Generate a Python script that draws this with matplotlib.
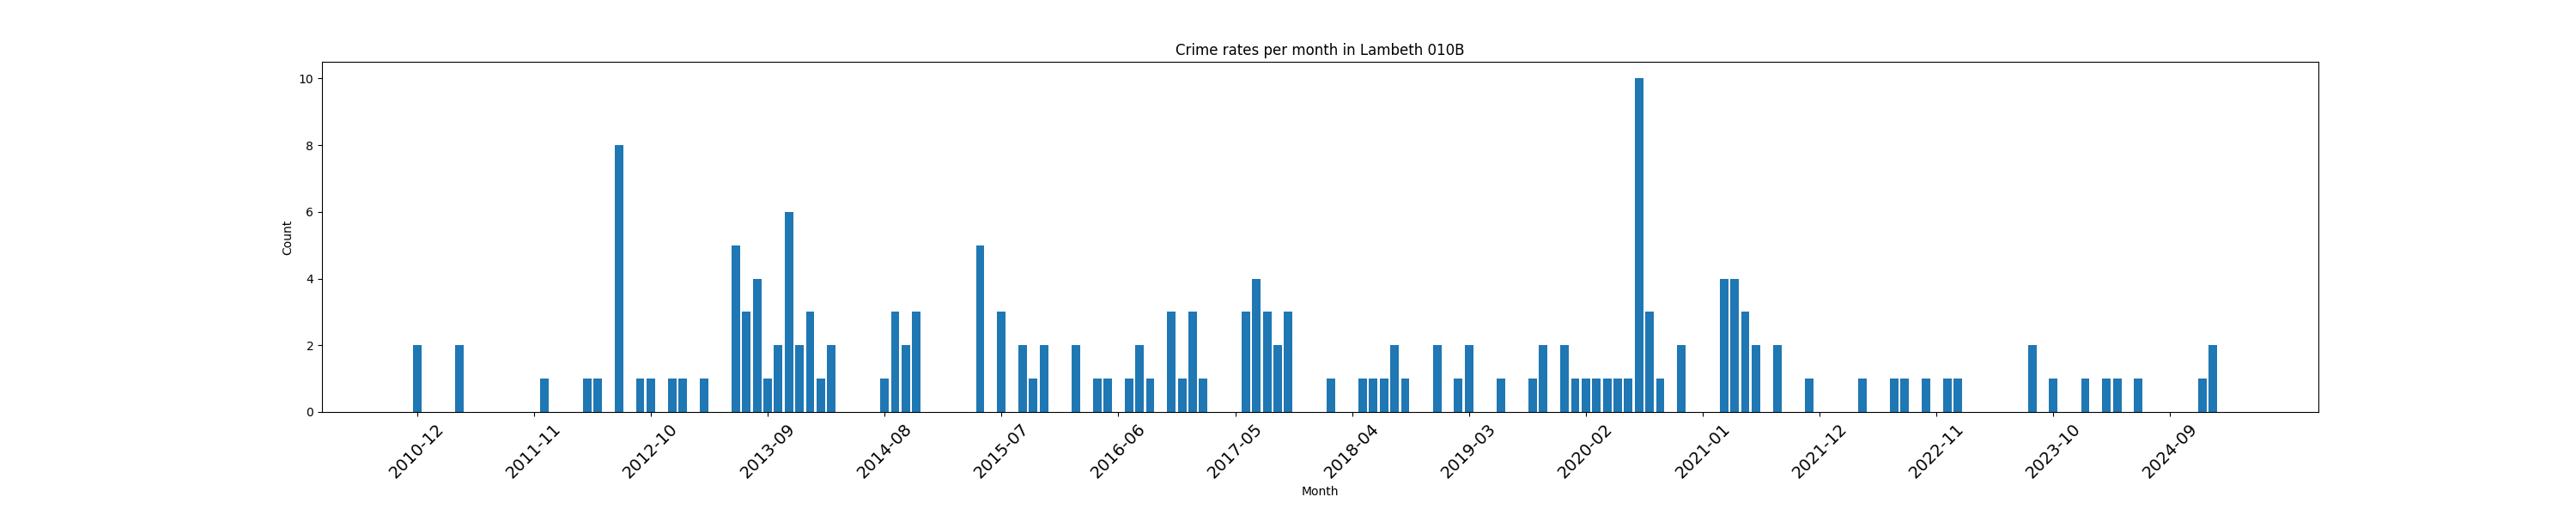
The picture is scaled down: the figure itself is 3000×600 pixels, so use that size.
import pandas as pd
import matplotlib.pyplot as plt

# every month from 2010-12 to 2025-02, counts (blank months = 0)
months = pd.period_range("2010-12", "2025-02", freq="M").strftime("%Y-%m").tolist()

crime_months = [
    "2010-12",
    "2011-04", "2011-12",
    "2012-04", "2012-05", "2012-07", "2012-09", "2012-10", "2012-12",
    "2013-01", "2013-03", "2013-06", "2013-07", "2013-08", "2013-09", "2013-10", "2013-11", "2013-12",
    "2014-01", "2014-02", "2014-03", "2014-08", "2014-09", "2014-10", "2014-11",
    "2015-05", "2015-07", "2015-09", "2015-10", "2015-11",
    "2016-02", "2016-04", "2016-05", "2016-07", "2016-08", "2016-09", "2016-11", "2016-12",
    "2017-01", "2017-02", "2017-06", "2017-07", "2017-08", "2017-09", "2017-10",
    "2018-02", "2018-05", "2018-06", "2018-07", "2018-08", "2018-09", "2018-12",
    "2019-02", "2019-03", "2019-06", "2019-09", "2019-10", "2019-12",
    "2020-01", "2020-02", "2020-03", "2020-04", "2020-05", "2020-06", "2020-07", "2020-08", "2020-09", "2020-11",
    "2021-03", "2021-04", "2021-05", "2021-06", "2021-08", "2021-11",
    "2022-04", "2022-07", "2022-08", "2022-10", "2022-12",
    "2023-01", "2023-08", "2023-10",
    "2024-01", "2024-03", "2024-04", "2024-06", "2024-12",
    "2025-01",
]
crime_counts = [
    2,
    2, 1,
    1, 1, 8, 1, 1, 1,
    1, 1, 5, 3, 4, 1, 2, 6, 2,
    3, 1, 2, 1, 3, 2, 3,
    5, 3, 2, 1, 2,
    2, 1, 1, 1, 2, 1, 3, 1,
    3, 1, 3, 4, 3, 2, 3,
    1, 1, 1, 1, 2, 1, 2,
    1, 2, 1, 1, 2, 2,
    1, 1, 1, 1, 1, 1, 10, 3, 1, 2,
    4, 4, 3, 2, 2, 1,
    1, 1, 1, 1, 1,
    1, 2, 1,
    1, 1, 1, 1, 1,
    2,
]

lookup = dict(zip(crime_months, crime_counts))
counts = [lookup.get(m, 0) for m in months]

plt.figure(figsize=(30, 6))
plt.bar(months, counts)
plt.title("Crime rates per month in Lambeth 010B")
plt.xlabel("Month")
plt.ylabel("Count")
plt.xticks(range(0, len(months), 11), months[::11], rotation=45, fontsize=14)
plt.subplots_adjust(bottom=0.2)
plt.savefig("out.png", dpi=100)
